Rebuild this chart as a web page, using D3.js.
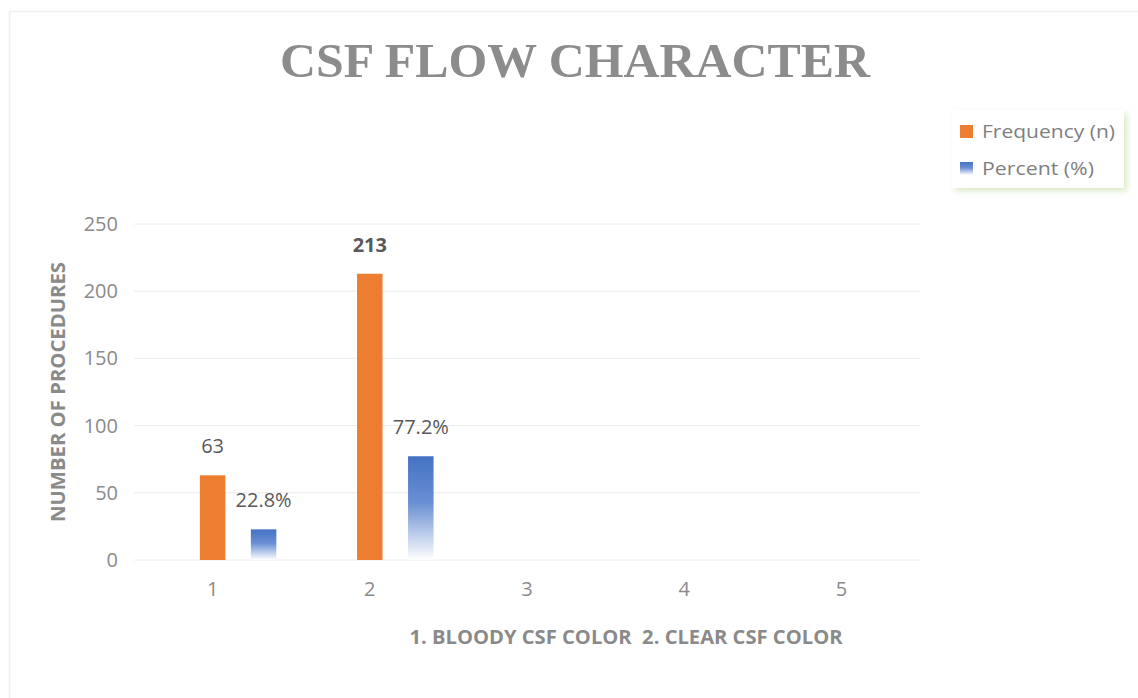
<!DOCTYPE html>
<html>
<head>
<meta charset="utf-8">
<script src="https://cdn.jsdelivr.net/npm/d3@7"></script>
<style>
  html, body { margin: 0; padding: 0; background: #ffffff; }
  svg { display: block; }
</style>
</head>
<body>
<svg id="chart" width="1138" height="698"></svg>
<script>
// Category positions on the x axis
const categories = [1, 2, 3, 4, 5];
// Frequency of procedures (n) per CSF colour
const frequency = [63, 213, null, null, null];
// Share of procedures (%) per CSF colour
const percent = [22.8, 77.2, null, null, null];
const frequencyLabels = ["63", "213", "", "", ""];
const percentLabels = ["22.8%", "77.2%", "", "", ""];
const yTicks = [0, 50, 100, 150, 200, 250];
const seriesNames = ["Frequency (n)", "Percent (%)"];

const svg = d3.select("#chart");
const W = 1138, H = 698;
const margin = { left: 134, right: 218, top: 224, bottom: 138 };
const plotW = W - margin.left - margin.right;   // 786
const plotH = H - margin.top - margin.bottom;   // 336

const orange = "#ED7D31";
const blue = "#4472C4";
const gray = "#8a8a8a";
const sans = "'Open Sans', Carlito, Calibri, sans-serif";

// faint outer frame
svg.append("rect")
  .attr("x", 9.5).attr("y", 11.5)
  .attr("width", W).attr("height", H)
  .attr("fill", "none").attr("stroke", "#f0f0f0").attr("stroke-width", 1.5);

const defs = svg.append("defs");
const grad = defs.append("linearGradient")
  .attr("id", "blueFade").attr("x1", 0).attr("y1", 0).attr("x2", 0).attr("y2", 1);
grad.append("stop").attr("offset", "0%").attr("stop-color", blue);
grad.append("stop").attr("offset", "45%").attr("stop-color", "#6a8fd3");
grad.append("stop").attr("offset", "100%").attr("stop-color", "#ffffff");

const shadow = defs.append("filter").attr("id", "legendShadow")
  .attr("x", "-10%").attr("y", "-10%").attr("width", "130%").attr("height", "140%");
shadow.append("feGaussianBlur").attr("in", "SourceAlpha").attr("stdDeviation", 3).attr("result", "blur");
shadow.append("feOffset").attr("in", "blur").attr("dx", 3).attr("dy", 3).attr("result", "off");
shadow.append("feFlood").attr("flood-color", "#b9d89a").attr("flood-opacity", 0.55).attr("result", "col");
shadow.append("feComposite").attr("in", "col").attr("in2", "off").attr("operator", "in").attr("result", "sh");
const merge = shadow.append("feMerge");
merge.append("feMergeNode").attr("in", "sh");
merge.append("feMergeNode").attr("in", "SourceGraphic");

// Title
svg.append("text")
  .attr("x", 575).attr("y", 77)
  .attr("text-anchor", "middle")
  .attr("font-family", "'Liberation Serif', 'Times New Roman', serif")
  .attr("font-weight", "bold")
  .attr("font-size", 48)
  .attr("fill", "#8c8c8c")
  .attr("textLength", 590)
  .attr("lengthAdjust", "spacingAndGlyphs")
  .text("CSF FLOW CHARACTER");

const g = svg.append("g").attr("transform", `translate(${margin.left},${margin.top})`);

const y = d3.scaleLinear().domain([0, 250]).range([plotH, 0]);
const x0 = d3.scaleBand().domain(categories).range([0, plotW]).paddingInner(0).paddingOuter(0);
const half = 76.5;
const x1 = d3.scaleBand().domain(["_", "freq", "pct"]).range([-half, half])
  .paddingInner(0.5).paddingOuter(0.25);

// gridlines
g.append("g").selectAll("line").data(yTicks).join("line")
  .attr("x1", 0).attr("x2", plotW)
  .attr("y1", d => y(d)).attr("y2", d => y(d))
  .attr("stroke", "#ececec").attr("stroke-width", 1);

// y axis tick labels
const yAxis = g.append("g").call(d3.axisLeft(y).tickValues(yTicks).tickSize(0).tickPadding(16));
yAxis.select(".domain").remove();
yAxis.selectAll("text")
  .attr("font-family", sans)
  .attr("font-size", 20).attr("fill", gray);

// x axis tick labels
const xAxis = g.append("g").attr("transform", `translate(0,${plotH})`)
  .call(d3.axisBottom(x0).tickSize(0).tickPadding(22));
xAxis.select(".domain").remove();
xAxis.selectAll("text")
  .attr("font-family", sans)
  .attr("font-size", 20).attr("fill", gray);

const cx = c => x0(c) + x0.bandwidth() / 2;

const freqData = categories.map((c, i) => ({ c, v: frequency[i], label: frequencyLabels[i] }))
  .filter(d => d.v != null);
const pctData = categories.map((c, i) => ({ c, v: percent[i], label: percentLabels[i] }))
  .filter(d => d.v != null);

// frequency bars
g.append("g").selectAll("rect").data(freqData).join("rect")
  .attr("x", d => cx(d.c) + x1("freq"))
  .attr("width", x1.bandwidth())
  .attr("y", d => y(d.v))
  .attr("height", d => plotH - y(d.v))
  .attr("fill", orange);

// percent bars
g.append("g").selectAll("rect").data(pctData).join("rect")
  .attr("x", d => cx(d.c) + x1("pct"))
  .attr("width", x1.bandwidth())
  .attr("y", d => y(d.v))
  .attr("height", d => plotH - y(d.v))
  .attr("fill", "url(#blueFade)");

// data labels
g.append("g").selectAll("text").data(freqData).join("text")
  .attr("x", d => cx(d.c) + x1("freq") + x1.bandwidth() / 2)
  .attr("y", d => y(d.v) - 22)
  .attr("text-anchor", "middle")
  .attr("font-family", sans)
  .attr("font-size", 20)
  .attr("font-weight", d => d.v > 100 ? "bold" : "normal")
  .attr("fill", "#595959")
  .text(d => d.label);

g.append("g").selectAll("text").data(pctData).join("text")
  .attr("x", d => cx(d.c) + x1("pct") + x1.bandwidth() / 2)
  .attr("y", d => y(d.v) - 22)
  .attr("text-anchor", "middle")
  .attr("font-family", sans)
  .attr("font-size", 20)
  .attr("fill", "#595959")
  .text(d => d.label);

// y axis title
svg.append("text")
  .attr("transform", `translate(65,392) rotate(-90)`)
  .attr("text-anchor", "middle")
  .attr("font-family", sans)
  .attr("font-weight", "bold")
  .attr("font-size", 19)
  .attr("fill", gray)
  .attr("textLength", 260)
  .attr("lengthAdjust", "spacingAndGlyphs")
  .text("NUMBER OF PROCEDURES");

// x axis note
svg.append("text")
  .attr("x", 626).attr("y", 644)
  .attr("text-anchor", "middle")
  .attr("font-family", sans)
  .attr("font-weight", "bold")
  .attr("font-size", 19)
  .attr("fill", gray)
  .attr("textLength", 433)
  .attr("lengthAdjust", "spacingAndGlyphs")
  .attr("xml:space", "preserve")
  .text("1. BLOODY CSF COLOR  2. CLEAR CSF COLOR");

// legend
const lg = svg.append("g").attr("transform", "translate(952,110)");
lg.append("rect")
  .attr("width", 172).attr("height", 78)
  .attr("fill", "#ffffff")
  .attr("filter", "url(#legendShadow)");
const legendWidths = [133, 112];
const items = lg.selectAll("g.item").data(seriesNames).join("g")
  .attr("class", "item")
  .attr("transform", (d, i) => `translate(8,${21 + i * 37})`);
items.append("rect")
  .attr("x", 0).attr("y", -6).attr("width", 13).attr("height", 13)
  .attr("fill", (d, i) => i === 0 ? orange : "url(#blueFade)");
items.append("text")
  .attr("x", 22).attr("y", 7)
  .attr("font-family", sans)
  .attr("font-size", 19)
  .attr("fill", "#7f7f7f")
  .attr("textLength", (d, i) => legendWidths[i])
  .attr("lengthAdjust", "spacingAndGlyphs")
  .text(d => d);
</script>
</body>
</html>
